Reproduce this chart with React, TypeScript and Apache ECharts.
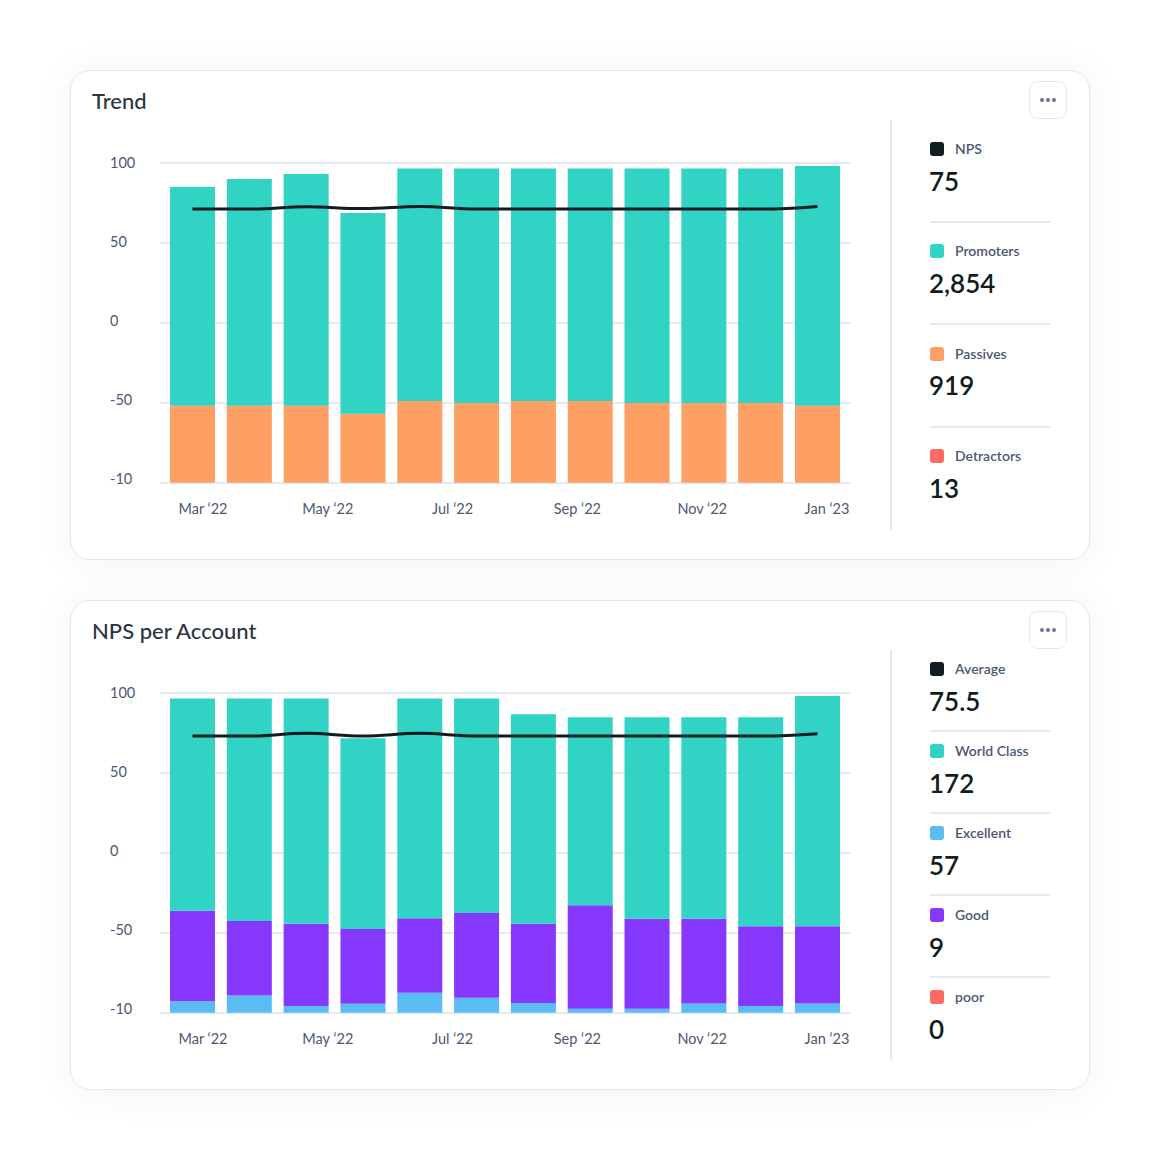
import React, { useEffect, useRef } from 'react';
import * as echarts from 'echarts';

// months behind the 12 bars (hidden axis) and the tick labels that are shown
const months = ['Mar ‘22', 'Apr ‘22', 'May ‘22', 'Jun ‘22', 'Jul ‘22', 'Aug ‘22', 'Sep ‘22', 'Oct ‘22', 'Nov ‘22', 'Dec ‘22', 'Jan ‘23', 'Feb ‘23'];
const xTickLabels = ['Mar ‘22', 'May ‘22', 'Jul ‘22', 'Sep ‘22', 'Nov ‘22', 'Jan ‘23'];
const yTickLabels = ['-10', '-50', '0', '50', '100'];

// Trend card: top edge of each stacked segment, in axis units
const passivesTop = [-51.9, -51.9, -51.9, -56.9, -49.0, -50.2, -49.0, -49.0, -50.2, -50.2, -50.2, -51.9];
const promotersTop = [84.8, 89.8, 92.9, 68.5, 96.3, 96.3, 96.3, 96.3, 96.3, 96.3, 96.3, 97.9];
const npsLine = [71.0, 71.0, 72.5, 71.3, 72.7, 71.0, 71.0, 71.0, 71.0, 71.0, 71.0, 72.7];

// NPS per Account card
const excellentTop = [-92.9, -89.2, -95.8, -94.4, -87.5, -90.6, -94.0, -97.5, -97.5, -94.2, -95.8, -94.2];
const goodTop = [-36.3, -42.7, -44.4, -47.7, -41.0, -37.7, -44.4, -32.9, -41.3, -41.3, -46.0, -46.0];
const worldClassTop = [96.3, 96.3, 96.3, 71.5, 96.3, 96.3, 86.5, 84.6, 84.6, 84.6, 84.6, 97.9];
const averageLine = [72.9, 72.9, 74.6, 72.9, 74.6, 72.9, 72.9, 72.9, 72.9, 72.9, 72.9, 74.4];

// legend panels
const trendNames = ['NPS', 'Promoters', 'Passives', 'Detractors'];
const trendTotals = ['75', '2,854', '919', '13'];
const accountNames = ['Average', 'World Class', 'Excellent', 'Good', 'poor'];
const accountTotals = ['75.5', '172', '57', '9', '0'];

const COLORS = {
  dark: '#0f1c20',
  teal: '#31d3c5',
  orange: '#fea063',
  red: '#ff6a61',
  blue: '#59bcf3',
  purple: '#8738fe',
};

const AXIS_MIN = -100;
const AXIS_MAX = 100;
const AXIS_STEP = 50;
const FONT = 'Lato, "Noto Sans", sans-serif';
const LABEL_COLOR = '#4c5773';

interface Layer {
  name: string;
  tops: number[];
  color: string;
}

function buildOption(layers: Layer[], lineName: string, line: number[]): echarts.EChartsOption {
  const floor = months.map(() => AXIS_MIN);
  const series: any[] = [
    {
      type: 'bar',
      name: 'floor',
      xAxisIndex: 1,
      yAxisIndex: 1,
      stack: 'nps',
      stackStrategy: 'all',
      barWidth: 45,
      silent: true,
      itemStyle: { color: 'rgba(0,0,0,0)' },
      data: floor,
    },
  ];
  let prev = floor;
  layers.forEach((layer) => {
    const below = prev;
    series.push({
      type: 'bar',
      name: layer.name,
      xAxisIndex: 1,
      yAxisIndex: 1,
      stack: 'nps',
      stackStrategy: 'all',
      barWidth: 45,
      itemStyle: { color: layer.color },
      data: layer.tops.map((t, i) => +(t - below[i]).toFixed(2)),
    });
    prev = layer.tops;
  });
  series.push({
    type: 'line',
    name: lineName,
    xAxisIndex: 1,
    yAxisIndex: 1,
    data: line,
    smooth: 0.4,
    symbol: 'none',
    lineStyle: { color: COLORS.dark, width: 3 },
    z: 5,
  });

  const hidden = { axisLine: { show: false }, axisTick: { show: false }, splitLine: { show: false } };

  return {
    animation: false,
    textStyle: { fontFamily: FONT },
    grid: [
      // frame for the split lines
      { left: 89, top: 91.7, width: 690, height: 320 },
      // bars and line
      { left: 93.1, top: 91.7, width: 681.8, height: 320 },
      // tick labels
      { left: 69.6, top: 91.7, width: 748.8, height: 316 },
    ],
    xAxis: [
      { type: 'category', gridIndex: 0, data: months, show: false },
      { type: 'category', gridIndex: 1, data: months, show: false },
      {
        type: 'category',
        gridIndex: 2,
        data: xTickLabels,
        ...hidden,
        axisLabel: { interval: 0, margin: 22, fontSize: 14.5, color: LABEL_COLOR, fontFamily: FONT },
      },
    ],
    yAxis: [
      {
        type: 'value',
        gridIndex: 0,
        min: AXIS_MIN,
        max: AXIS_MAX,
        interval: AXIS_STEP,
        axisLine: { show: false },
        axisTick: { show: false },
        axisLabel: { show: false },
        splitLine: { lineStyle: { color: '#e6e9f0', width: 2 } },
      },
      { type: 'value', gridIndex: 1, min: AXIS_MIN, max: AXIS_MAX, show: false },
      {
        type: 'value',
        gridIndex: 2,
        min: AXIS_MIN,
        max: AXIS_MAX,
        interval: AXIS_STEP,
        ...hidden,
        axisLabel: {
          align: 'left',
          margin: 30.6,
          fontSize: 14.5,
          color: LABEL_COLOR,
          fontFamily: FONT,
          formatter: (v: number) => yTickLabels[Math.round((v - AXIS_MIN) / AXIS_STEP)],
        },
      },
    ],
    series,
  };
}

interface LegendLayout {
  first: number;
  pitch: number;
  sepOffset: number;
}

interface CardProps {
  top: number;
  title: string;
  layers: Layer[];
  lineName: string;
  line: number[];
  names: string[];
  totals: string[];
  swatches: string[];
  layout: LegendLayout;
}

const ChartCard: React.FC<CardProps> = ({ top, title, layers, lineName, line, names, totals, swatches, layout }) => {
  const chartRef = useRef<HTMLDivElement>(null);

  useEffect(() => {
    if (!chartRef.current) return;
    const chart = echarts.init(chartRef.current, null, { renderer: 'svg' });
    chart.setOption(buildOption(layers, lineName, line));
    return () => {
      chart.dispose();
    };
  }, [layers, lineName, line]);

  return (
    <div
      style={{
        position: 'absolute',
        left: 70,
        top,
        width: 1020,
        height: 490,
        boxSizing: 'border-box',
        border: '1px solid #e3e5ea',
        borderRadius: 20,
        background: '#fff',
        boxShadow: '0 2px 40px rgba(40, 50, 90, 0.06)',
      }}
    >
      <div ref={chartRef} style={{ position: 'absolute', left: 0, top: 0, width: 840, height: 480 }} />

      <div
        style={{
          position: 'absolute',
          left: 21,
          top: 19,
          fontSize: 22,
          lineHeight: '22px',
          fontWeight: 500,
          color: '#2b3441',
          whiteSpace: 'nowrap',
        }}
      >
        {title}
      </div>

      <div
        style={{
          position: 'absolute',
          left: 958,
          top: 10,
          width: 38,
          height: 38,
          boxSizing: 'border-box',
          border: '1px solid #e6e8ec',
          borderRadius: 9,
          display: 'flex',
          alignItems: 'center',
          justifyContent: 'center',
          gap: 2,
        }}
      >
        {[0, 1, 2].map((d) => (
          <div key={d} style={{ width: 4, height: 4, borderRadius: 2, background: '#6b7590' }} />
        ))}
      </div>

      <div style={{ position: 'absolute', left: 819, top: 49, width: 2, height: 410, background: '#e3e8f0' }} />

      {names.map((name, i) => {
        const cy = layout.first + i * layout.pitch;
        return (
          <React.Fragment key={name}>
            <div
              style={{
                position: 'absolute',
                left: 859,
                top: cy - 7,
                width: 14,
                height: 14,
                borderRadius: 3,
                background: swatches[i],
              }}
            />
            <div
              style={{
                position: 'absolute',
                left: 884,
                top: cy - 7,
                fontSize: 14,
                lineHeight: '14px',
                fontWeight: 600,
                color: LABEL_COLOR,
                whiteSpace: 'nowrap',
              }}
            >
              {name}
            </div>
            <div
              style={{
                position: 'absolute',
                left: 858,
                top: cy + 31.5 - 13,
                fontSize: 26,
                lineHeight: '26px',
                fontWeight: 600,
                color: COLORS.dark,
                whiteSpace: 'nowrap',
              }}
            >
              {totals[i]}
            </div>
            {i < names.length - 1 && (
              <div
                style={{
                  position: 'absolute',
                  left: 859,
                  top: cy + layout.sepOffset - 1,
                  width: 120,
                  height: 2,
                  background: '#e5e9f1',
                }}
              />
            )}
          </React.Fragment>
        );
      })}
    </div>
  );
};

const trendLayers: Layer[] = [
  { name: 'Passives', tops: passivesTop, color: COLORS.orange },
  { name: 'Promoters', tops: promotersTop, color: COLORS.teal },
];

const accountLayers: Layer[] = [
  { name: 'Excellent', tops: excellentTop, color: COLORS.blue },
  { name: 'Good', tops: goodTop, color: COLORS.purple },
  { name: 'World Class', tops: worldClassTop, color: COLORS.teal },
];

export default function App() {
  return (
    <div
      style={{
        position: 'absolute',
        left: 0,
        top: 0,
        width: 1160,
        height: 1160,
        background: '#fff',
        fontFamily: FONT,
        overflow: 'hidden',
      }}
    >
      <ChartCard
        top={70}
        title="Trend"
        layers={trendLayers}
        lineName="NPS"
        line={npsLine}
        names={trendNames}
        totals={trendTotals}
        swatches={[COLORS.dark, COLORS.teal, COLORS.orange, COLORS.red]}
        layout={{ first: 78, pitch: 102.4, sepOffset: 72.7 }}
      />
      <ChartCard
        top={600}
        title="NPS per Account"
        layers={accountLayers}
        lineName="Average"
        line={averageLine}
        names={accountNames}
        totals={accountTotals}
        swatches={[COLORS.dark, COLORS.teal, COLORS.blue, COLORS.purple, COLORS.red]}
        layout={{ first: 68.3, pitch: 82, sepOffset: 61.5 }}
      />
    </div>
  );
}
